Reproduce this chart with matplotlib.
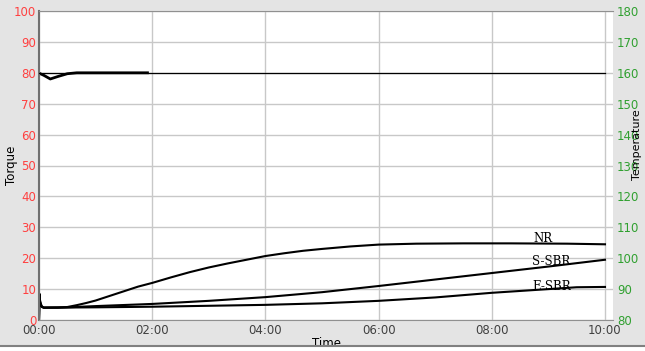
import matplotlib.pyplot as plt
from matplotlib.lines import Line2D
from matplotlib.patches import Rectangle
import numpy as np

# time in minutes, torque values
t_nr = [0, 0.5, 1, 2, 3, 5, 20, 30, 40, 50, 60, 75, 90, 105, 120, 140, 160, 180, 200, 220,
        240, 260, 280, 300, 330, 360, 400, 450, 500, 560, 600]
nr = [0, 8.5, 6.5, 5.2, 4.4, 4.0, 4.0, 4.2, 4.8, 5.5, 6.3, 7.8, 9.3, 10.8, 12.0, 13.8, 15.5,
      17.0, 18.3, 19.5, 20.7, 21.6, 22.4, 23.0, 23.8, 24.4, 24.7, 24.8, 24.8, 24.7, 24.5]

t_ssbr = [0, 0.5, 1, 2, 3, 5, 30, 60, 120, 180, 240, 300, 360, 420, 480, 540, 600]
ssbr = [0, 8.0, 6.0, 5.0, 4.3, 4.0, 4.1, 4.5, 5.2, 6.2, 7.4, 9.0, 11.0, 13.1, 15.2, 17.3, 19.5]

t_esbr = [0, 0.5, 1, 2, 3, 5, 60, 120, 180, 240, 300, 360, 420, 480, 540, 570, 600]
esbr = [0, 7.5, 5.5, 4.8, 4.2, 4.0, 4.1, 4.3, 4.6, 4.9, 5.4, 6.2, 7.3, 8.8, 10.0, 10.6, 10.7]

t_top = [0, 5, 12, 20, 30, 40, 115]
top = [79.9, 79.2, 78.0, 78.8, 79.7, 80.0, 80.0]

t_temp = [0, 600]
temp = [160, 160]

xticks = [0, 120, 240, 360, 480, 600]
xticklabels = ['00:00', '02:00', '04:00', '06:00', '08:00', '10:00']

fig = plt.figure(figsize=(6.45, 3.51), dpi=100)
fig.patch.set_facecolor('#e4e4e4')
ax = fig.add_axes([39 / 645, 1 - 320 / 351, (613 - 39) / 645, (320 - 11) / 351])
ax.set_facecolor('white')

ax.plot(t_nr, nr, color='black', lw=1.5)
ax.plot(t_ssbr, ssbr, color='black', lw=1.5)
ax.plot(t_esbr, esbr, color='black', lw=1.5)
ax.plot(t_top, top, color='black', lw=2)

ax.set_xlim(0, 608.5)
ax.set_ylim(0, 100)
ax.set_xticks(xticks)
ax.set_xticklabels(xticklabels)
ax.set_yticks(range(0, 101, 10))
ax.tick_params(axis='y', colors='#ff4040', length=0, pad=2, labelsize=8.5)
ax.tick_params(axis='x', colors='#404040', length=0, pad=3, labelsize=8.5)
ax.grid(True, color='#c8c8c8', linewidth=1)
ax.set_axisbelow(True)
ax.spines['left'].set_color('#707070')
ax.spines['left'].set_linewidth(1.5)
for s in ['top', 'bottom']:
    ax.spines[s].set_color('#909090')
ax.spines['right'].set_visible(False)

ax.set_xlabel('Time', fontsize=8.5, labelpad=0)
fig.text(12 / 645, 1 - 165 / 351, 'Torque', rotation=90, fontsize=8.5,
         ha='center', va='center')

ax2 = ax.twinx()
ax2.plot(t_temp, temp, color='black', lw=0.9)
ax2.set_ylim(80, 180)
ax2.set_yticks(range(80, 181, 10))
ax2.tick_params(axis='y', colors='#30a030', length=0, pad=3, labelsize=8.5)
for s in ['right', 'top', 'left', 'bottom']:
    ax2.spines[s].set_visible(False)
fig.text(637 / 645, 1 - 145 / 351, 'Temperature', rotation=90, fontsize=8,
         ha='center', va='center')

ax.text(534, 26.5, 'NR', fontsize=8.5, ha='center', va='center', family='DejaVu Serif')
ax.text(543, 18.8, 'S-SBR', fontsize=8.5, ha='center', va='center', family='DejaVu Serif')
ax.text(543, 11, 'E-SBR', fontsize=8.5, ha='center', va='center', family='DejaVu Serif')

fig.add_artist(Rectangle((0, 0), 1, 1 - 346 / 351, transform=fig.transFigure,
                         facecolor='white', edgecolor='none'))
fig.add_artist(Line2D([0, 1], [1 - 346 / 351, 1 - 346 / 351], transform=fig.transFigure,
                      color='#808080', lw=1.5))

fig.savefig('out.png', dpi=100, facecolor=fig.get_facecolor())
